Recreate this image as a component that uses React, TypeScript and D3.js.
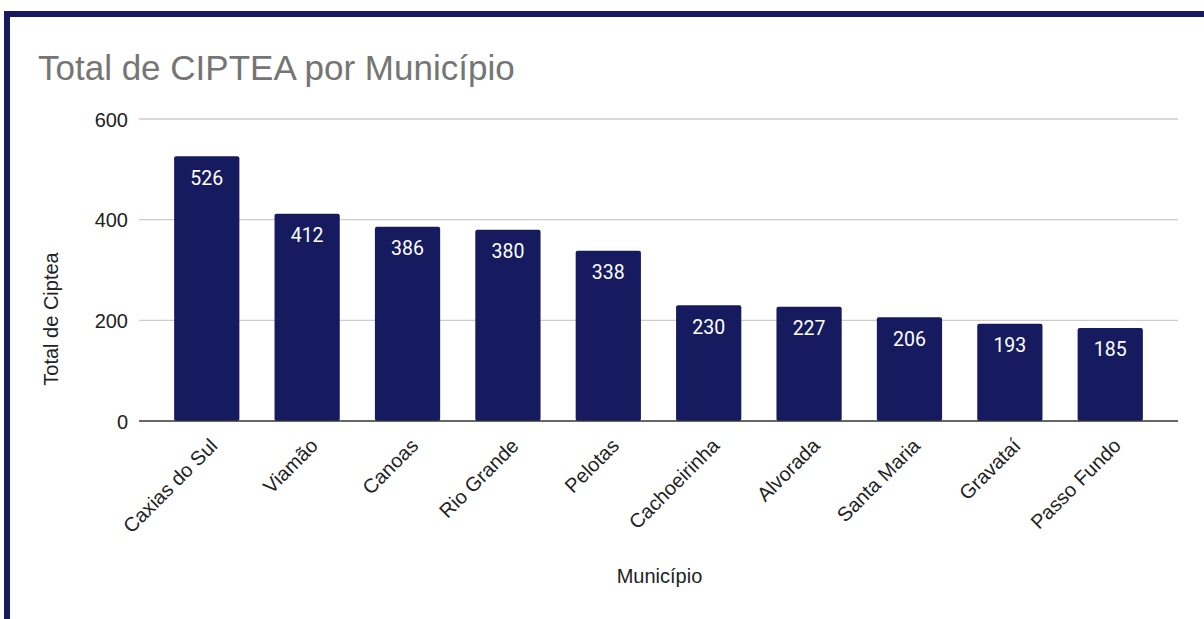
import React from "react";
import * as d3 from "d3";

const municipios = ["Caxias do Sul", "Viamão", "Canoas", "Rio Grande", "Pelotas", "Cachoeirinha", "Alvorada", "Santa Maria", "Gravataí", "Passo Fundo"];
const totais = [526, 412, 386, 380, 338, 230, 227, 206, 193, 185];
const yTicks = [0, 200, 400, 600];

const W = 1204;
const H = 619;
const NAVY = "#161b60";

export default function App() {
  const x = d3.scaleBand<string>().domain(municipios).range([139, 1178]).paddingInner(0.35).paddingOuter(0.35);
  const y = d3.scaleLinear().domain([0, 600]).range([421, 119]);
  const tickFont = "'Liberation Sans', Arial, sans-serif";

  return (
    <div style={{ position: "fixed", left: 0, top: 0, width: W, height: H, background: "#fff" }}>
      <svg width={W} height={H} style={{ display: "block" }}>
        <rect x={0} y={0} width={W} height={H} fill="#fff" />
        <rect x={7} y={14} width={W + 20} height={H + 20} fill="none" stroke={NAVY} strokeWidth={6} />
        <text x={38} y={80} fontFamily={tickFont} fontSize={35} fill="#757575">
          Total de CIPTEA por Município
        </text>
        {yTicks.map((t) => (
          <g key={t}>
            {t !== 0 && <line x1={139} x2={1178} y1={y(t)} y2={y(t)} stroke="#cccccc" strokeWidth={1.3} />}
            <text x={128} y={y(t) + 7.5} textAnchor="end" fontFamily={tickFont} fontSize={20} fill="#222">
              {t}
            </text>
          </g>
        ))}
        {municipios.map((m, i) => (
          <g key={m}>
            <rect x={x(m)!} y={y(totais[i])} width={x.bandwidth()} height={y(0) - y(totais[i])} rx={2} fill={NAVY} />
            <text
              x={x(m)! + x.bandwidth() / 2}
              y={y(totais[i]) + 28.5}
              textAnchor="middle"
              fontFamily="Roboto, sans-serif"
              fontSize={19.5}
              fill="#ffffff"
            >
              {totais[i]}
            </text>
          </g>
        ))}
        <line x1={139} x2={1178} y1={y(0)} y2={y(0)} stroke="#333" strokeWidth={1.5} />
        {municipios.map((m) => {
          const cx = x(m)! + x.bandwidth() / 2 + 12;
          const cy = 447;
          return (
            <text
              key={"l" + m}
              x={cx}
              y={cy}
              textAnchor="end"
              transform={`rotate(-45 ${cx} ${cy})`}
              fontFamily={tickFont}
              fontSize={20}
              fill="#222"
            >
              {m}
            </text>
          );
        })}
        <text x={58} y={319} textAnchor="middle" transform="rotate(-90 58 319)" fontFamily={tickFont} fontSize={20} fill="#222">
          Total de Ciptea
        </text>
        <text x={659.5} y={583} textAnchor="middle" fontFamily={tickFont} fontSize={20} fill="#222">
          Município
        </text>
      </svg>
    </div>
  );
}
